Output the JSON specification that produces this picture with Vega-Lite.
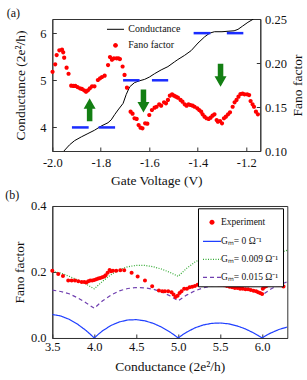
{
  "$schema": "https://vega.github.io/schema/vega-lite/v6.json",
  "background": "white",
  "padding": {"left": 4.3, "top": 6, "right": 0, "bottom": 0},
  "spacing": 1,
  "resolve": {
    "scale": {"stroke": "independent", "fill": "independent", "shape": "independent", "strokeDash": "independent", "color": "independent"},
    "legend": {"stroke": "independent", "fill": "independent", "shape": "independent", "strokeDash": "independent", "color": "independent"}
  },
  "config": {
    "font": "Liberation Serif",
    "view": {"stroke": "#333", "strokeWidth": 1},
    "axis": {
      "domainColor": "#333", "tickColor": "#333", "tickSize": -4, "tickWidth": 1,
      "labelFont": "Liberation Serif", "labelFontSize": 12.5, "labelColor": "#111", "labelFlush": false,
      "titleFont": "Liberation Serif", "titleFontSize": 13.5, "titleFontWeight": "normal", "titleColor": "#111",
      "grid": false
    },
    "title": {"font": "Liberation Serif", "fontSize": 12, "fontWeight": "normal", "anchor": "start", "frame": "bounds", "color": "#111"}
  },
  "datasets": {
    "cond": [
      {"V": -1.952, "G": 3.5}, {"V": -1.929, "G": 3.63}, {"V": -1.908, "G": 3.72}, {"V": -1.88, "G": 3.8},
      {"V": -1.853, "G": 3.87}, {"V": -1.826, "G": 3.94}, {"V": -1.798, "G": 4.03}, {"V": -1.77, "G": 4.1},
      {"V": -1.757, "G": 4.16}, {"V": -1.743, "G": 4.27}, {"V": -1.729, "G": 4.37}, {"V": -1.708, "G": 4.51},
      {"V": -1.695, "G": 4.7}, {"V": -1.681, "G": 4.86}, {"V": -1.661, "G": 4.95}, {"V": -1.64, "G": 4.99},
      {"V": -1.619, "G": 5.02}, {"V": -1.599, "G": 5.07}, {"V": -1.578, "G": 5.14}, {"V": -1.551, "G": 5.22},
      {"V": -1.523, "G": 5.29}, {"V": -1.496, "G": 5.39}, {"V": -1.482, "G": 5.44}, {"V": -1.454, "G": 5.53},
      {"V": -1.427, "G": 5.63}, {"V": -1.399, "G": 5.79}, {"V": -1.372, "G": 5.92}, {"V": -1.351, "G": 6.0},
      {"V": -1.331, "G": 6.03}, {"V": -1.3, "G": 6.03}, {"V": -1.275, "G": 6.04}, {"V": -1.25, "G": 6.05},
      {"V": -1.234, "G": 6.08}, {"V": -1.215, "G": 6.15}, {"V": -1.193, "G": 6.23}, {"V": -1.17, "G": 6.3}
    ],
    "plateaus": [
      {"V1": -1.919, "V2": -1.85, "G": 4}, {"V1": -1.809, "V2": -1.741, "G": 4},
      {"V1": -1.708, "V2": -1.64, "G": 5}, {"V1": -1.589, "V2": -1.522, "G": 5},
      {"V1": -1.417, "V2": -1.348, "G": 6}, {"V1": -1.28, "V2": -1.212, "G": 6}
    ],
    "arrows": [
      {"V": -1.846, "G": 4.376, "dir": "up"},
      {"V": -1.624, "G": 4.561, "dir": "down"},
      {"V": -1.306, "G": 5.106, "dir": "down"}
    ],
    "fanoA": [
      {"V": -1.999, "F": 0.19}, {"V": -1.988, "F": 0.1985}, {"V": -1.982, "F": 0.209}, {"V": -1.971, "F": 0.2144},
      {"V": -1.96, "F": 0.2151}, {"V": -1.955, "F": 0.2121}, {"V": -1.951, "F": 0.206}, {"V": -1.941, "F": 0.1947},
      {"V": -1.933, "F": 0.1878}, {"V": -1.922, "F": 0.1742}, {"V": -1.913, "F": 0.1739}, {"V": -1.905, "F": 0.1739},
      {"V": -1.896, "F": 0.1727}, {"V": -1.886, "F": 0.1712}, {"V": -1.878, "F": 0.1705}, {"V": -1.869, "F": 0.169},
      {"V": -1.861, "F": 0.1674}, {"V": -1.853, "F": 0.169}, {"V": -1.845, "F": 0.1712}, {"V": -1.836, "F": 0.1735},
      {"V": -1.826, "F": 0.1735}, {"V": -1.812, "F": 0.1807}, {"V": -1.803, "F": 0.1826}, {"V": -1.795, "F": 0.1841},
      {"V": -1.784, "F": 0.1856}, {"V": -1.77, "F": 0.1977}, {"V": -1.762, "F": 0.2068}, {"V": -1.754, "F": 0.2038},
      {"V": -1.746, "F": 0.2053}, {"V": -1.735, "F": 0.2053}, {"V": -1.727, "F": 0.2053}, {"V": -1.721, "F": 0.2045},
      {"V": -1.71, "F": 0.196}, {"V": -1.702, "F": 0.1864}, {"V": -1.692, "F": 0.172}, {"V": -1.677, "F": 0.1447},
      {"V": -1.669, "F": 0.1424}, {"V": -1.661, "F": 0.1372}, {"V": -1.652, "F": 0.1364}, {"V": -1.644, "F": 0.1295},
      {"V": -1.636, "F": 0.1265}, {"V": -1.628, "F": 0.1258}, {"V": -1.617, "F": 0.1315}, {"V": -1.608, "F": 0.1311},
      {"V": -1.6, "F": 0.1409}, {"V": -1.589, "F": 0.1466}, {"V": -1.578, "F": 0.1492}, {"V": -1.57, "F": 0.1503},
      {"V": -1.559, "F": 0.153}, {"V": -1.551, "F": 0.1515}, {"V": -1.539, "F": 0.1553}, {"V": -1.531, "F": 0.1542},
      {"V": -1.523, "F": 0.158}, {"V": -1.515, "F": 0.1629}, {"V": -1.506, "F": 0.1644}, {"V": -1.498, "F": 0.1629},
      {"V": -1.49, "F": 0.1617}, {"V": -1.482, "F": 0.1606}, {"V": -1.471, "F": 0.158}, {"V": -1.463, "F": 0.156},
      {"V": -1.454, "F": 0.153}, {"V": -1.446, "F": 0.1515}, {"V": -1.438, "F": 0.153}, {"V": -1.43, "F": 0.1523},
      {"V": -1.421, "F": 0.1515}, {"V": -1.413, "F": 0.1503}, {"V": -1.402, "F": 0.1485}, {"V": -1.394, "F": 0.1466},
      {"V": -1.386, "F": 0.1447}, {"V": -1.38, "F": 0.1417}, {"V": -1.372, "F": 0.139}, {"V": -1.364, "F": 0.1372},
      {"V": -1.355, "F": 0.1364}, {"V": -1.347, "F": 0.1379}, {"V": -1.339, "F": 0.1401}, {"V": -1.331, "F": 0.1417},
      {"V": -1.322, "F": 0.1352}, {"V": -1.317, "F": 0.1333}, {"V": -1.308, "F": 0.1341}, {"V": -1.3, "F": 0.1315},
      {"V": -1.292, "F": 0.1372}, {"V": -1.284, "F": 0.139}, {"V": -1.275, "F": 0.1417}, {"V": -1.267, "F": 0.144},
      {"V": -1.256, "F": 0.1503}, {"V": -1.248, "F": 0.1553}, {"V": -1.24, "F": 0.158}, {"V": -1.232, "F": 0.1617},
      {"V": -1.224, "F": 0.1648}, {"V": -1.215, "F": 0.1651}, {"V": -1.207, "F": 0.1644}, {"V": -1.196, "F": 0.1644},
      {"V": -1.188, "F": 0.1636}, {"V": -1.182, "F": 0.1568}, {"V": -1.174, "F": 0.153}, {"V": -1.168, "F": 0.1503},
      {"V": -1.16, "F": 0.1447}, {"V": -1.152, "F": 0.1417}
    ],
    "models": [
      {"s": "Gₘ= 0 Ω⁻¹", "G": 3.5, "F": 0.0714}, {"s": "Gₘ= 0 Ω⁻¹", "G": 3.6, "F": 0.0667}, {"s": "Gₘ= 0 Ω⁻¹", "G": 3.7, "F": 0.0568},
      {"s": "Gₘ= 0 Ω⁻¹", "G": 3.8, "F": 0.0421}, {"s": "Gₘ= 0 Ω⁻¹", "G": 3.9, "F": 0.0231}, {"s": "Gₘ= 0 Ω⁻¹", "G": 3.95, "F": 0.012},
      {"s": "Gₘ= 0 Ω⁻¹", "G": 4.0, "F": 0}, {"s": "Gₘ= 0 Ω⁻¹", "G": 4.05, "F": 0.0117}, {"s": "Gₘ= 0 Ω⁻¹", "G": 4.1, "F": 0.022},
      {"s": "Gₘ= 0 Ω⁻¹", "G": 4.2, "F": 0.0381}, {"s": "Gₘ= 0 Ω⁻¹", "G": 4.3, "F": 0.0488}, {"s": "Gₘ= 0 Ω⁻¹", "G": 4.4, "F": 0.0545},
      {"s": "Gₘ= 0 Ω⁻¹", "G": 4.5, "F": 0.0556}, {"s": "Gₘ= 0 Ω⁻¹", "G": 4.6, "F": 0.0522}, {"s": "Gₘ= 0 Ω⁻¹", "G": 4.7, "F": 0.0447},
      {"s": "Gₘ= 0 Ω⁻¹", "G": 4.8, "F": 0.0333}, {"s": "Gₘ= 0 Ω⁻¹", "G": 4.9, "F": 0.0184}, {"s": "Gₘ= 0 Ω⁻¹", "G": 4.95, "F": 0.0096},
      {"s": "Gₘ= 0 Ω⁻¹", "G": 5.0, "F": 0}, {"s": "Gₘ= 0 Ω⁻¹", "G": 5.05, "F": 0.0094}, {"s": "Gₘ= 0 Ω⁻¹", "G": 5.1, "F": 0.0176},
      {"s": "Gₘ= 0 Ω⁻¹", "G": 5.2, "F": 0.0308}, {"s": "Gₘ= 0 Ω⁻¹", "G": 5.3, "F": 0.0396}, {"s": "Gₘ= 0 Ω⁻¹", "G": 5.4, "F": 0.0444},
      {"s": "Gₘ= 0 Ω⁻¹", "G": 5.5, "F": 0.0455}, {"s": "Gₘ= 0 Ω⁻¹", "G": 5.6, "F": 0.0429}, {"s": "Gₘ= 0 Ω⁻¹", "G": 5.7, "F": 0.0368},
      {"s": "Gₘ= 0 Ω⁻¹", "G": 5.8, "F": 0.0276}, {"s": "Gₘ= 0 Ω⁻¹", "G": 5.9, "F": 0.0153}, {"s": "Gₘ= 0 Ω⁻¹", "G": 5.95, "F": 0.008},
      {"s": "Gₘ= 0 Ω⁻¹", "G": 6.0, "F": 0}, {"s": "Gₘ= 0 Ω⁻¹", "G": 6.05, "F": 0.0079}, {"s": "Gₘ= 0 Ω⁻¹", "G": 6.1, "F": 0.0148},
      {"s": "Gₘ= 0 Ω⁻¹", "G": 6.2, "F": 0.0258}, {"s": "Gₘ= 0 Ω⁻¹", "G": 6.3, "F": 0.0333},
      {"s": "Gₘ= 0.009 Ω⁻¹", "G": 3.5, "F": 0.202}, {"s": "Gₘ= 0.009 Ω⁻¹", "G": 3.6, "F": 0.197}, {"s": "Gₘ= 0.009 Ω⁻¹", "G": 3.7, "F": 0.187},
      {"s": "Gₘ= 0.009 Ω⁻¹", "G": 3.8, "F": 0.176}, {"s": "Gₘ= 0.009 Ω⁻¹", "G": 3.9, "F": 0.164}, {"s": "Gₘ= 0.009 Ω⁻¹", "G": 4.0, "F": 0.149},
      {"s": "Gₘ= 0.009 Ω⁻¹", "G": 4.1, "F": 0.172}, {"s": "Gₘ= 0.009 Ω⁻¹", "G": 4.2, "F": 0.192}, {"s": "Gₘ= 0.009 Ω⁻¹", "G": 4.3, "F": 0.207},
      {"s": "Gₘ= 0.009 Ω⁻¹", "G": 4.4, "F": 0.216}, {"s": "Gₘ= 0.009 Ω⁻¹", "G": 4.5, "F": 0.22}, {"s": "Gₘ= 0.009 Ω⁻¹", "G": 4.6, "F": 0.22},
      {"s": "Gₘ= 0.009 Ω⁻¹", "G": 4.7, "F": 0.216}, {"s": "Gₘ= 0.009 Ω⁻¹", "G": 4.8, "F": 0.209}, {"s": "Gₘ= 0.009 Ω⁻¹", "G": 4.9, "F": 0.199},
      {"s": "Gₘ= 0.009 Ω⁻¹", "G": 5.0, "F": 0.187}, {"s": "Gₘ= 0.009 Ω⁻¹", "G": 5.1, "F": 0.211}, {"s": "Gₘ= 0.009 Ω⁻¹", "G": 5.2, "F": 0.23},
      {"s": "Gₘ= 0.009 Ω⁻¹", "G": 5.3, "F": 0.244}, {"s": "Gₘ= 0.009 Ω⁻¹", "G": 5.4, "F": 0.253}, {"s": "Gₘ= 0.009 Ω⁻¹", "G": 5.5, "F": 0.257},
      {"s": "Gₘ= 0.009 Ω⁻¹", "G": 5.6, "F": 0.257}, {"s": "Gₘ= 0.009 Ω⁻¹", "G": 5.7, "F": 0.253}, {"s": "Gₘ= 0.009 Ω⁻¹", "G": 5.8, "F": 0.245},
      {"s": "Gₘ= 0.009 Ω⁻¹", "G": 5.9, "F": 0.235}, {"s": "Gₘ= 0.009 Ω⁻¹", "G": 6.0, "F": 0.222}, {"s": "Gₘ= 0.009 Ω⁻¹", "G": 6.1, "F": 0.244},
      {"s": "Gₘ= 0.009 Ω⁻¹", "G": 6.2, "F": 0.258}, {"s": "Gₘ= 0.009 Ω⁻¹", "G": 6.3, "F": 0.266},
      {"s": "Gₘ= 0.015 Ω⁻¹", "G": 3.5, "F": 0.145}, {"s": "Gₘ= 0.015 Ω⁻¹", "G": 3.6, "F": 0.141}, {"s": "Gₘ= 0.015 Ω⁻¹", "G": 3.7, "F": 0.134},
      {"s": "Gₘ= 0.015 Ω⁻¹", "G": 3.8, "F": 0.122}, {"s": "Gₘ= 0.015 Ω⁻¹", "G": 3.9, "F": 0.107}, {"s": "Gₘ= 0.015 Ω⁻¹", "G": 4.0, "F": 0.09},
      {"s": "Gₘ= 0.015 Ω⁻¹", "G": 4.1, "F": 0.113}, {"s": "Gₘ= 0.015 Ω⁻¹", "G": 4.2, "F": 0.13}, {"s": "Gₘ= 0.015 Ω⁻¹", "G": 4.3, "F": 0.143},
      {"s": "Gₘ= 0.015 Ω⁻¹", "G": 4.4, "F": 0.15}, {"s": "Gₘ= 0.015 Ω⁻¹", "G": 4.5, "F": 0.153}, {"s": "Gₘ= 0.015 Ω⁻¹", "G": 4.6, "F": 0.152},
      {"s": "Gₘ= 0.015 Ω⁻¹", "G": 4.7, "F": 0.148}, {"s": "Gₘ= 0.015 Ω⁻¹", "G": 4.8, "F": 0.14}, {"s": "Gₘ= 0.015 Ω⁻¹", "G": 4.9, "F": 0.128},
      {"s": "Gₘ= 0.015 Ω⁻¹", "G": 5.0, "F": 0.113}, {"s": "Gₘ= 0.015 Ω⁻¹", "G": 5.1, "F": 0.13}, {"s": "Gₘ= 0.015 Ω⁻¹", "G": 5.2, "F": 0.143},
      {"s": "Gₘ= 0.015 Ω⁻¹", "G": 5.3, "F": 0.152}, {"s": "Gₘ= 0.015 Ω⁻¹", "G": 5.4, "F": 0.158}, {"s": "Gₘ= 0.015 Ω⁻¹", "G": 5.5, "F": 0.161},
      {"s": "Gₘ= 0.015 Ω⁻¹", "G": 5.6, "F": 0.16}, {"s": "Gₘ= 0.015 Ω⁻¹", "G": 5.7, "F": 0.157}, {"s": "Gₘ= 0.015 Ω⁻¹", "G": 5.8, "F": 0.151},
      {"s": "Gₘ= 0.015 Ω⁻¹", "G": 5.9, "F": 0.142}, {"s": "Gₘ= 0.015 Ω⁻¹", "G": 6.0, "F": 0.13}, {"s": "Gₘ= 0.015 Ω⁻¹", "G": 6.1, "F": 0.148},
      {"s": "Gₘ= 0.015 Ω⁻¹", "G": 6.2, "F": 0.161}, {"s": "Gₘ= 0.015 Ω⁻¹", "G": 6.3, "F": 0.17}
    ],
    "exp": [
      {"s": "Experiment", "G": 3.5, "F": 0.204}, {"s": "Experiment", "G": 3.571, "F": 0.194}, {"s": "Experiment", "G": 3.627, "F": 0.188},
      {"s": "Experiment", "G": 3.69, "F": 0.174}, {"s": "Experiment", "G": 3.731, "F": 0.174}, {"s": "Experiment", "G": 3.77, "F": 0.174},
      {"s": "Experiment", "G": 3.81, "F": 0.172}, {"s": "Experiment", "G": 3.85, "F": 0.17}, {"s": "Experiment", "G": 3.881, "F": 0.17},
      {"s": "Experiment", "G": 3.905, "F": 0.168}, {"s": "Experiment", "G": 3.929, "F": 0.172}, {"s": "Experiment", "G": 3.952, "F": 0.174},
      {"s": "Experiment", "G": 3.976, "F": 0.174}, {"s": "Experiment", "G": 4.0, "F": 0.176}, {"s": "Experiment", "G": 4.024, "F": 0.178},
      {"s": "Experiment", "G": 4.048, "F": 0.18}, {"s": "Experiment", "G": 4.071, "F": 0.182}, {"s": "Experiment", "G": 4.095, "F": 0.184},
      {"s": "Experiment", "G": 4.119, "F": 0.186}, {"s": "Experiment", "G": 4.136, "F": 0.19}, {"s": "Experiment", "G": 4.159, "F": 0.198},
      {"s": "Experiment", "G": 4.183, "F": 0.206}, {"s": "Experiment", "G": 4.199, "F": 0.202}, {"s": "Experiment", "G": 4.223, "F": 0.204},
      {"s": "Experiment", "G": 4.262, "F": 0.204}, {"s": "Experiment", "G": 4.31, "F": 0.205}, {"s": "Experiment", "G": 4.357, "F": 0.205},
      {"s": "Experiment", "G": 4.445, "F": 0.198}, {"s": "Experiment", "G": 4.517, "F": 0.186}, {"s": "Experiment", "G": 4.604, "F": 0.174},
      {"s": "Experiment", "G": 4.69, "F": 0.157}, {"s": "Experiment", "G": 4.77, "F": 0.144}, {"s": "Experiment", "G": 4.81, "F": 0.142},
      {"s": "Experiment", "G": 4.842, "F": 0.1415}, {"s": "Experiment", "G": 4.881, "F": 0.1415}, {"s": "Experiment", "G": 4.921, "F": 0.139},
      {"s": "Experiment", "G": 4.945, "F": 0.1315}, {"s": "Experiment", "G": 4.969, "F": 0.124}, {"s": "Experiment", "G": 4.993, "F": 0.128},
      {"s": "Experiment", "G": 5.017, "F": 0.1365}, {"s": "Experiment", "G": 5.04, "F": 0.1415}, {"s": "Experiment", "G": 5.071, "F": 0.1495},
      {"s": "Experiment", "G": 5.104, "F": 0.1495}, {"s": "Experiment", "G": 5.136, "F": 0.1535}, {"s": "Experiment", "G": 5.167, "F": 0.1555},
      {"s": "Experiment", "G": 5.199, "F": 0.1575}, {"s": "Experiment", "G": 5.231, "F": 0.1615}, {"s": "Experiment", "G": 5.262, "F": 0.1635},
      {"s": "Experiment", "G": 5.294, "F": 0.1635}, {"s": "Experiment", "G": 5.326, "F": 0.166}, {"s": "Experiment", "G": 5.357, "F": 0.168},
      {"s": "Experiment", "G": 5.389, "F": 0.166}, {"s": "Experiment", "G": 5.421, "F": 0.166}, {"s": "Experiment", "G": 5.452, "F": 0.1635},
      {"s": "Experiment", "G": 5.484, "F": 0.1615}, {"s": "Experiment", "G": 5.516, "F": 0.1615}, {"s": "Experiment", "G": 5.548, "F": 0.1595},
      {"s": "Experiment", "G": 5.58, "F": 0.1575}, {"s": "Experiment", "G": 5.612, "F": 0.1555}, {"s": "Experiment", "G": 5.643, "F": 0.1535},
      {"s": "Experiment", "G": 5.675, "F": 0.1515}, {"s": "Experiment", "G": 5.707, "F": 0.1515}, {"s": "Experiment", "G": 5.738, "F": 0.1495},
      {"s": "Experiment", "G": 5.77, "F": 0.1495}, {"s": "Experiment", "G": 5.802, "F": 0.1475}, {"s": "Experiment", "G": 5.833, "F": 0.1475},
      {"s": "Experiment", "G": 5.865, "F": 0.1455}, {"s": "Experiment", "G": 5.898, "F": 0.1435}, {"s": "Experiment", "G": 5.929, "F": 0.1415},
      {"s": "Experiment", "G": 5.952, "F": 0.139}, {"s": "Experiment", "G": 5.976, "F": 0.1365}, {"s": "Experiment", "G": 6.0, "F": 0.1335},
      {"s": "Experiment", "G": 6.008, "F": 0.1495}, {"s": "Experiment", "G": 6.024, "F": 0.1535}, {"s": "Experiment", "G": 6.048, "F": 0.1565},
      {"s": "Experiment", "G": 6.071, "F": 0.1615}, {"s": "Experiment", "G": 6.104, "F": 0.166}, {"s": "Experiment", "G": 6.136, "F": 0.166},
      {"s": "Experiment", "G": 6.167, "F": 0.166}, {"s": "Experiment", "G": 6.2, "F": 0.1615}, {"s": "Experiment", "G": 6.224, "F": 0.1635},
      {"s": "Experiment", "G": 6.255, "F": 0.156}
    ]
  },
  "vconcat": [
    {
      "width": 208,
      "height": 132,
      "title": {"text": "(a)", "offset": -7, "dx": -7},
      "resolve": {"scale": {"y": "independent"}},
      "layer": [
        {
          "layer": [
            {
              "data": {"name": "cond"},
              "mark": {"type": "line", "strokeWidth": 1, "clip": true},
              "encoding": {
                "x": {"field": "V", "type": "quantitative", "scale": {"domain": [-2.0, -1.142], "nice": false, "zero": false},
                  "axis": {"title": "Gate Voltage (V)", "values": [-2.0, -1.8, -1.6, -1.4, -1.2], "labelExpr": "replace(format(datum.value, '.1f'), '−', '-')", "labelPadding": 9.5, "titlePadding": 4.2}},
                "y": {"field": "G", "type": "quantitative", "scale": {"domain": [3.5, 6.3], "nice": false, "zero": false},
                  "axis": {"orient": "left", "title": "Conductance (2e²/h)", "values": [4, 5, 6], "format": "d", "labelPadding": 10.3, "titlePadding": 12}},
                "stroke": {"datum": "Conductance", "type": "nominal", "scale": {"domain": ["Conductance", "Fano factor"], "range": ["#000000", "transparent"]},
                  "legend": {"title": null, "orient": "none", "legendX": 54.2, "legendY": 1.3, "padding": 0, "symbolSize": 289, "symbolStrokeWidth": 1, "labelFont": "Liberation Serif", "labelFontSize": 10, "labelColor": "#111", "labelOffset": 3.8, "rowPadding": 2}}
              }
            },
            {
              "data": {"name": "plateaus"},
              "mark": {"type": "rule", "color": "#1a2cff", "strokeWidth": 2.5},
              "encoding": {
                "x": {"field": "V1", "type": "quantitative"},
                "x2": {"field": "V2"},
                "y": {"field": "G", "type": "quantitative", "scale": {"domain": [3.5, 6.3], "nice": false, "zero": false}}
              }
            },
            {
              "data": {"name": "arrows"},
              "transform": [{"filter": "datum.dir === 'up'"}],
              "mark": {"type": "point", "filled": true, "size": 529, "color": "#137f13", "opacity": 1, "strokeWidth": 0,
                "shape": "M0,-1L0.52,-0.08L0.24,-0.08L0.24,1L-0.24,1L-0.24,-0.08L-0.52,-0.08Z"},
              "encoding": {
                "x": {"field": "V", "type": "quantitative"},
                "y": {"field": "G", "type": "quantitative", "scale": {"domain": [3.5, 6.3], "nice": false, "zero": false}}
              }
            },
            {
              "data": {"name": "arrows"},
              "transform": [{"filter": "datum.dir === 'down'"}],
              "mark": {"type": "point", "filled": true, "size": 529, "color": "#137f13", "opacity": 1, "strokeWidth": 0,
                "shape": "M0,1L0.52,0.08L0.24,0.08L0.24,-1L-0.24,-1L-0.24,0.08L-0.52,0.08Z"},
              "encoding": {
                "x": {"field": "V", "type": "quantitative"},
                "y": {"field": "G", "type": "quantitative", "scale": {"domain": [3.5, 6.3], "nice": false, "zero": false}}
              }
            }
          ]
        },
        {
          "data": {"name": "fanoA"},
          "mark": {"type": "point", "filled": true, "size": 225, "opacity": 1},
          "encoding": {
            "x": {"field": "V", "type": "quantitative"},
            "y": {"field": "F", "type": "quantitative", "scale": {"domain": [0.1, 0.25], "nice": false, "zero": false},
              "axis": {"orient": "right", "title": "Fano factor", "values": [0.1, 0.15, 0.2, 0.25], "format": ".2f", "labelPadding": 8.3, "titlePadding": 4, "titleAngle": 270, "titleAlign": "center", "titleBaseline": "top"}},
            "fill": {"datum": "Fano factor", "type": "nominal", "scale": {"domain": ["Conductance", "Fano factor"], "range": ["transparent", "#ff0000"]}},
            "shape": {"datum": "Fano factor", "type": "nominal", "scale": {"domain": ["Conductance", "Fano factor"], "range": ["stroke", "M-0.28,0A0.28,0.28,0,1,0,0.28,0A0.28,0.28,0,1,0,-0.28,0Z"]}}
          }
        }
      ]
    },
    {
      "width": 235,
      "height": 132,
      "title": {"text": "(b)", "offset": -2.5, "dx": -7},
      "layer": [
        {
          "data": {"name": "models"},
          "mark": {"type": "line", "strokeWidth": 1.2, "clip": true},
          "encoding": {
            "x": {"field": "G", "type": "quantitative", "scale": {"domain": [3.5, 6.3], "nice": false, "zero": false},
              "axis": {"title": "Conductance (2e²/h)", "values": [3.5, 4.0, 4.5, 5.0, 5.5, 6.0], "format": ".1f", "labelPadding": 6.5, "titlePadding": 7}},
            "y": {"field": "F", "type": "quantitative", "scale": {"domain": [0, 0.4], "nice": false},
              "axis": {"title": "Fano factor", "values": [0, 0.1, 0.2, 0.3, 0.4], "format": ".1f", "labelPadding": 10.3, "titlePadding": 4}},
            "stroke": {"field": "s", "type": "nominal",
              "scale": {"domain": ["Experiment", "Gₘ= 0 Ω⁻¹", "Gₘ= 0.009 Ω⁻¹", "Gₘ= 0.015 Ω⁻¹"], "range": ["transparent", "#1f3fff", "#33aa33", "#7040b0"]}},
            "strokeDash": {"field": "s", "type": "nominal",
              "scale": {"domain": ["Experiment", "Gₘ= 0 Ω⁻¹", "Gₘ= 0.009 Ω⁻¹", "Gₘ= 0.015 Ω⁻¹"], "range": [[1, 0], [1, 0], [1, 1.5], [4, 3]]}}
          }
        },
        {
          "data": {"name": "exp"},
          "mark": {"type": "point", "filled": true, "size": 204, "opacity": 1},
          "encoding": {
            "x": {"field": "G", "type": "quantitative"},
            "y": {"field": "F", "type": "quantitative"},
            "fill": {"field": "s", "type": "nominal",
              "scale": {"domain": ["Experiment", "Gₘ= 0 Ω⁻¹", "Gₘ= 0.009 Ω⁻¹", "Gₘ= 0.015 Ω⁻¹"], "range": ["#ff0000", "transparent", "transparent", "transparent"]},
              "legend": {"title": null, "orient": "none", "legendX": 145.7, "legendY": 2.3, "padding": 4, "strokeColor": "#000", "fillColor": "white",
                "symbolSize": 324, "symbolStrokeWidth": 1.3, "labelFont": "Liberation Serif", "labelFontSize": 9.5, "labelColor": "#111", "labelOffset": -1, "rowPadding": 3}},
            "shape": {"field": "s", "type": "nominal",
              "scale": {"domain": ["Experiment", "Gₘ= 0 Ω⁻¹", "Gₘ= 0.009 Ω⁻¹", "Gₘ= 0.015 Ω⁻¹"], "range": ["M-0.28,0A0.28,0.28,0,1,0,0.28,0A0.28,0.28,0,1,0,-0.28,0Z", "stroke", "stroke", "stroke"]}}
          }
        }
      ]
    }
  ]
}
